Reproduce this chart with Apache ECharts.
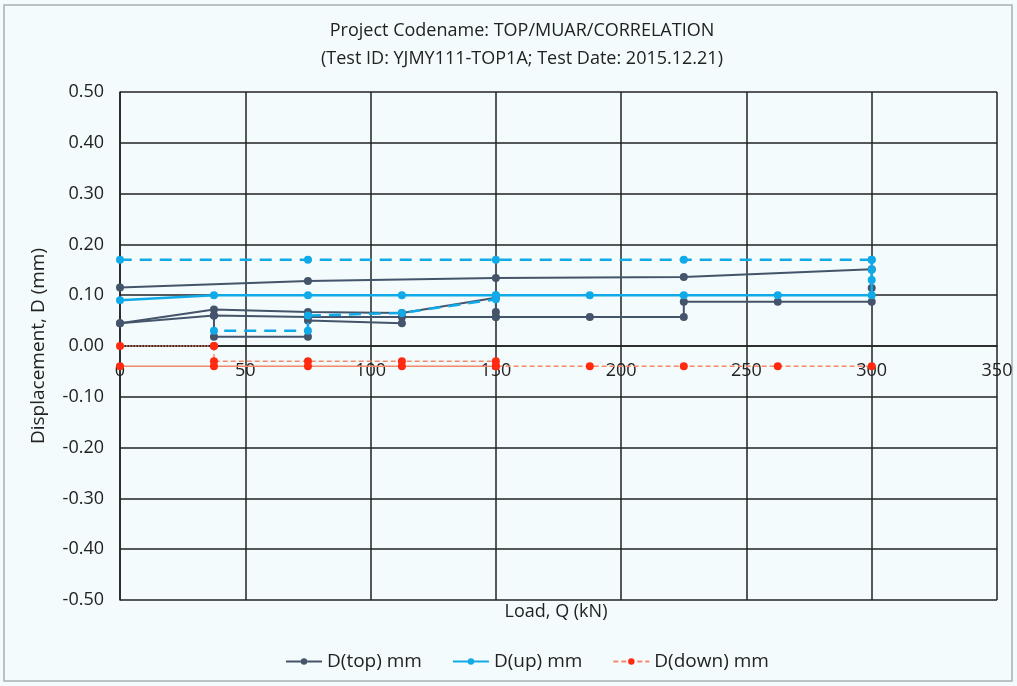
<!DOCTYPE html>
<html>
<head>
<meta charset="utf-8">
<script src="https://cdn.jsdelivr.net/npm/echarts@6/dist/echarts.min.js"></script>
<style>
  html, body { margin: 0; padding: 0; background: #F4FBFD; }
  #chart { width: 1017px; height: 686px; }
</style>
</head>
<body>
<div id="chart"></div>
<script>
// 荷载 Q (kN) 与位移 D (mm)，按读数顺序
// D(top)
const topMainLoad = [0, 37.5, 75, 112.5, 150, 150, 150, 187.5, 225, 225, 262.5, 300, 300, 300, 225, 150, 75, 0]
const topMainDisp = [0.045, 0.072, 0.067, 0.065, 0.095, 0.067, 0.057, 0.057, 0.057, 0.087, 0.087, 0.087, 0.114, 0.151, 0.136, 0.134, 0.128, 0.115]
const topLowLoad = [0, 37.5, 75, 112.5, 150]
const topLowDisp = [0.045, 0.060, 0.057, 0.057, 0.057]
const topDipLoad = [37.5, 37.5, 75, 75, 112.5]
const topDipDisp = [0.060, 0.018, 0.018, 0.050, 0.045]
const topDashLoad = [150, 300]
const topDashDisp = [0.100, 0.100]
// D(up)
const upLoad = [0, 37.5, 75, 112.5, 150, 187.5, 225, 262.5, 300, 300, 300, 300]
const upDisp = [0.090, 0.100, 0.100, 0.100, 0.100, 0.100, 0.100, 0.100, 0.100, 0.130, 0.150, 0.170]
const upUnloadLoad = [300, 225, 150, 75, 0]
const upUnloadDisp = [0.170, 0.170, 0.170, 0.170, 0.170]
const upMidLoad = [150, 150, 112.5, 75, 75, 37.5]
const upMidDisp = [0.100, 0.092, 0.065, 0.060, 0.030, 0.030]
// D(down)
const downLoad = [37.5, 37.5, 75, 112.5, 150, 150, 187.5, 225, 262.5, 300]
const downDisp = [0, -0.030, -0.030, -0.030, -0.030, -0.040, -0.040, -0.040, -0.040, -0.040]
const downStartLoad = [0, 37.5]
const downStartDisp = [0, 0]
const downBackLoad = [150, 112.5, 75, 37.5, 0]
const downBackDisp = [-0.040, -0.040, -0.040, -0.040, -0.040]

const xTicks = [0, 50, 100, 150, 200, 250, 300, 350]

function pairs (xs, ys) {
    return xs.map((x, i) => [x, ys[i]])
}

const TOP = '#44546A'
const UP = '#10AAE8'
const DOWN_LINE = '#F2896A'
const DOWN_DOT = '#FF2A10'
const FONT = 'Open Sans'

const GRID_TOP = 92
const GRID_BOTTOM = 86
const Y_MIN = -0.5
const Y_MAX = 0.5

function line (name, data, color, opts) {
    opts = opts || {}
    return {
        name: name,
        type: 'line',
        data: data,
        symbol: 'circle',
        symbolSize: opts.symbolSize || 8,
        showSymbol: opts.showSymbol !== false,
        z: opts.z || 2,
        itemStyle: { color: opts.dotColor || color },
        lineStyle: {
            color: color,
            width: opts.width || 2,
            type: opts.type || 'solid'
        },
        emphasis: { disabled: true }
    }
}

const chart = echarts.init(document.getElementById('chart'))
// x 轴放在 y=0 处：按绘图区高度算出偏移
const plotHeight = 686 - GRID_TOP - GRID_BOTTOM
const zeroOffset = plotHeight * (0 - Y_MIN) / (Y_MAX - Y_MIN)

chart.setOption({
    backgroundColor: '#F4FBFD',
    animation: false,
    title: {
        text: 'Project Codename: TOP/MUAR/CORRELATION\n(Test ID: YJMY111-TOP1A; Test Date: 2015.12.21)',
        left: 517,
        textAlign: 'center',
        top: 12,
        textStyle: {
            fontFamily: FONT,
            fontSize: 18,
            fontWeight: 'normal',
            color: '#222',
            lineHeight: 28
        }
    },
    legend: {
        data: ['D(top) mm', 'D(up) mm', 'D(down) mm'],
        bottom: 10,
        left: 280,
        itemWidth: 36,
        itemHeight: 8,
        itemGap: 30,
        textStyle: { fontFamily: FONT, fontSize: 19, color: '#222' }
    },
    grid: {
        left: 120,
        right: 20,
        top: GRID_TOP,
        bottom: GRID_BOTTOM,
        containLabel: false
    },
    xAxis: {
        type: 'value',
        min: xTicks[0],
        max: xTicks[xTicks.length - 1],
        interval: 50,
        offset: -zeroOffset,
        axisLine: { onZero: false, lineStyle: { color: '#222', width: 1.5 } },
        axisTick: { show: false },
        axisLabel: { fontFamily: FONT, fontSize: 18, color: '#222', margin: 16 },
        splitLine: { show: true, lineStyle: { color: '#222', width: 1.5 } }
    },
    yAxis: {
        type: 'value',
        min: Y_MIN,
        max: Y_MAX,
        interval: 0.1,
        name: 'Displacement, D (mm)',
        nameLocation: 'middle',
        nameGap: 72,
        nameTextStyle: { fontFamily: FONT, fontSize: 19, color: '#222' },
        axisLine: { show: true, onZero: false, lineStyle: { color: '#222', width: 1.5 } },
        axisTick: { show: false },
        axisLabel: {
            fontFamily: FONT,
            fontSize: 18,
            color: '#222',
            margin: 16,
            formatter: (v) => v.toFixed(2)
        },
        splitLine: { show: true, lineStyle: { color: '#222', width: 1.5 } }
    },
    graphic: [
        {
            type: 'rect',
            shape: { x: 4, y: 5, width: 1008, height: 676 },
            style: { fill: 'none', stroke: '#A8B0B4', lineWidth: 1.5 },
            silent: true
        },
        {
            type: 'text',
            x: 556,
            y: 612,
            style: {
                text: 'Load, Q (kN)',
                fontFamily: FONT,
                fontSize: 18,
                fill: '#222',
                align: 'center',
                verticalAlign: 'middle'
            }
        }
    ],
    series: [
        line('D(top) mm', pairs(topMainLoad, topMainDisp), TOP, { width: 2 }),
        line('D(top) mm', pairs(topLowLoad, topLowDisp), TOP, { width: 2 }),
        line('D(top) mm', pairs(topDipLoad, topDipDisp), TOP, { width: 2 }),
        line('D(top) mm', pairs(topDashLoad, topDashDisp), TOP, { width: 1.5, type: 'dashed', showSymbol: false, z: 1 }),
        line('D(up) mm', pairs(upLoad, upDisp), UP, { width: 2.5, z: 3 }),
        line('D(up) mm', pairs(upUnloadLoad, upUnloadDisp), UP, { width: 2.5, type: [12, 8], z: 3 }),
        line('D(up) mm', pairs(upMidLoad, upMidDisp), UP, { width: 2.5, type: [12, 8], z: 3 }),
        line('D(down) mm', pairs(downLoad, downDisp), DOWN_LINE, { width: 1.5, type: [5, 3], dotColor: DOWN_DOT, z: 4 }),
        line('D(down) mm', pairs(downStartLoad, downStartDisp), DOWN_LINE, { width: 1.5, type: 'dotted', dotColor: DOWN_DOT, z: 4 }),
        line('D(down) mm', pairs(downBackLoad, downBackDisp), DOWN_LINE, { width: 1.5, dotColor: DOWN_DOT, z: 4 })
    ]
})
</script>
</body>
</html>
